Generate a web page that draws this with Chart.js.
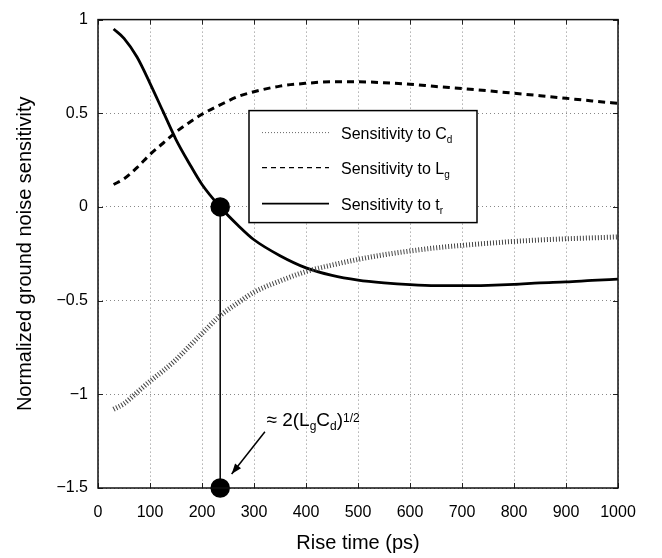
<!DOCTYPE html>
<html>
<head>
<meta charset="utf-8">
<script src="https://cdn.jsdelivr.net/npm/chart.js@4.4.1/dist/chart.umd.min.js"></script>
<style>
  html, body { margin: 0; padding: 0; background: #fff; }
  #wrap { width: 662px; height: 558px; }
</style>
</head>
<body>
<div id="wrap"><canvas id="chart" width="662" height="558"></canvas></div>
<script>
// ===== 数据 =====
const riseTime = [30, 50, 75, 100, 125, 150, 175, 200, 235, 270, 300, 350, 400, 450, 500, 550, 600, 650, 700, 750, 800, 850, 900, 950, 1000];
const sensCd = [-1.08, -1.05, -0.99, -0.93, -0.875, -0.815, -0.745, -0.675, -0.58, -0.51, -0.455, -0.395, -0.345, -0.31, -0.28, -0.255, -0.235, -0.218, -0.205, -0.194, -0.184, -0.176, -0.17, -0.165, -0.16];
const sensLg = [0.12, 0.15, 0.21, 0.28, 0.34, 0.40, 0.45, 0.495, 0.545, 0.59, 0.615, 0.645, 0.66, 0.668, 0.668, 0.663, 0.655, 0.643, 0.632, 0.62, 0.607, 0.594, 0.58, 0.566, 0.553];
const sensTr = [0.95, 0.90, 0.80, 0.66, 0.51, 0.36, 0.235, 0.12, 0.0, -0.10, -0.175, -0.26, -0.325, -0.365, -0.39, -0.405, -0.415, -0.42, -0.42, -0.418, -0.413, -0.405, -0.40, -0.392, -0.385];

// 标记的竖线 (t_r 过零点)
const markerX = [235, 235];
const markerY = [0, -1.5];

const xTicks = [0, 100, 200, 300, 400, 500, 600, 700, 800, 900, 1000];
const yTicks = [-1.5, -1, -0.5, 0, 0.5, 1];

const FONT = "'Liberation Sans', Arial, Helvetica, sans-serif";

function pts(xs, ys) {
    return xs.map((x, i) => ({ x: x, y: ys[i] }));
}

// 带上下标的文字
function drawRich(ctx, parts, x, y, size, subSize) {
    let cx = x;
    parts.forEach(p => {
        const txt = p[0], kind = p[1];
        let dy = 0, fs = size;
        if (kind === 'sub') { fs = subSize; dy = 4; }
        if (kind === 'sup') { fs = subSize; dy = -4; }
        ctx.font = fs + 'px ' + FONT;
        ctx.fillText(txt, cx, y + dy);
        cx += ctx.measureText(txt).width;
    });
}

// ===== 自定义绘制：边框、刻度、图例、注释 =====
const decoPlugin = {
    id: 'deco',
    afterDatasetsDraw(chart) {
        const ctx = chart.ctx;
        const a = chart.chartArea;
        const xs = chart.scales.x, ys = chart.scales.y;
        ctx.save();

        // 向内的刻度线
        ctx.strokeStyle = '#222';
        ctx.lineWidth = 1;
        ctx.beginPath();
        xTicks.forEach(t => {
            const px = Math.round(xs.getPixelForValue(t)) + 0.5;
            ctx.moveTo(px, a.bottom); ctx.lineTo(px, a.bottom - 5);
            ctx.moveTo(px, a.top); ctx.lineTo(px, a.top + 5);
        });
        yTicks.forEach(t => {
            const py = Math.round(ys.getPixelForValue(t)) + 0.5;
            ctx.moveTo(a.left, py); ctx.lineTo(a.left + 5, py);
            ctx.moveTo(a.right, py); ctx.lineTo(a.right - 5, py);
        });
        ctx.stroke();

        // 边框
        ctx.strokeStyle = '#111';
        ctx.lineWidth = 1.5;
        ctx.strokeRect(a.left, a.top, a.right - a.left, a.bottom - a.top);

        // 图例
        const lx = a.left + 151, ly = a.top + 91, lw = 228, lh = 112;
        ctx.fillStyle = '#fff';
        ctx.fillRect(lx, ly, lw, lh);
        ctx.strokeStyle = '#000';
        ctx.lineWidth = 1.5;
        ctx.strokeRect(lx, ly, lw, lh);

        const rows = [
            { y: 22, baseline: 28, dash: [1, 2], width: 1, color: '#666', parts: [['Sensitivity to C', null], ['d', 'sub']] },
            { y: 57, baseline: 63, dash: [5, 4], width: 1.3, color: '#000', parts: [['Sensitivity to L', null], ['g', 'sub']] },
            { y: 93, baseline: 99, dash: [], width: 1.6, color: '#000', parts: [['Sensitivity to t', null], ['r', 'sub']] }
        ];
        rows.forEach(r => {
            ctx.beginPath();
            ctx.setLineDash(r.dash);
            ctx.strokeStyle = r.color;
            ctx.lineWidth = r.width;
            ctx.moveTo(lx + 13, ly + r.y);
            ctx.lineTo(lx + 80, ly + r.y);
            ctx.stroke();
            ctx.setLineDash([]);
            ctx.fillStyle = '#000';
            ctx.textBaseline = 'alphabetic';
            ctx.textAlign = 'left';
            drawRich(ctx, r.parts, lx + 92, ly + r.baseline, 16, 10);
        });

        // 注释文字与箭头
        const tx = xs.getPixelForValue(324);
        const ty = ys.getPixelForValue(-1.168);
        ctx.fillStyle = '#000';
        drawRich(ctx, [['\u2248 2(L', null], ['g', 'sub'], ['C', null], ['d', 'sub'], [')', null], ['1/2', 'sup']], tx, ty, 19, 12);

        const x0 = xs.getPixelForValue(321), y0 = ys.getPixelForValue(-1.2);
        const x1 = xs.getPixelForValue(257), y1 = ys.getPixelForValue(-1.425);
        ctx.strokeStyle = '#000';
        ctx.lineWidth = 1.5;
        ctx.beginPath();
        ctx.moveTo(x0, y0);
        ctx.lineTo(x1, y1);
        ctx.stroke();
        const ang = Math.atan2(y1 - y0, x1 - x0);
        ctx.beginPath();
        ctx.moveTo(x1, y1);
        ctx.lineTo(x1 - 11 * Math.cos(ang - 0.35), y1 - 11 * Math.sin(ang - 0.35));
        ctx.lineTo(x1 - 11 * Math.cos(ang + 0.35), y1 - 11 * Math.sin(ang + 0.35));
        ctx.closePath();
        ctx.fill();

        ctx.restore();
    }
};

const ctx = document.getElementById('chart').getContext('2d');

const chart = new Chart(ctx, {
    type: 'line',
    data: {
        datasets: [
            {
                label: 'Sensitivity to Cd',
                data: pts(riseTime, sensCd),
                borderColor: '#444',
                borderWidth: 5,
                borderDash: [1, 2],
                borderCapStyle: 'butt',
                pointRadius: 0,
                cubicInterpolationMode: 'monotone'
            },
            {
                label: 'Sensitivity to Lg',
                data: pts(riseTime, sensLg),
                borderColor: '#000',
                borderWidth: 3,
                borderDash: [7, 5],
                borderCapStyle: 'butt',
                pointRadius: 0,
                cubicInterpolationMode: 'monotone'
            },
            {
                label: 'Sensitivity to tr',
                data: pts(riseTime, sensTr),
                borderColor: '#000',
                borderWidth: 2.8,
                pointRadius: 0,
                cubicInterpolationMode: 'monotone'
            },
            {
                label: 'marker',
                data: pts(markerX, markerY),
                borderColor: '#000',
                borderWidth: 1.5,
                pointRadius: 9,
                pointBackgroundColor: '#000',
                pointBorderColor: '#000',
                clip: false
            }
        ]
    },
    options: {
        responsive: false,
        animation: false,
        devicePixelRatio: 1,
        layout: { padding: { left: 0, right: 44, top: 14, bottom: 0 } },
        plugins: {
            legend: { display: false },
            tooltip: { enabled: false }
        },
        scales: {
            x: {
                type: 'linear',
                min: 0,
                max: 1000,
                afterFit: s => { s.height = 70; },
                afterBuildTicks: s => { s.ticks = xTicks.map(v => ({ value: v })); },
                ticks: {
                    color: '#000',
                    font: { family: FONT, size: 16 },
                    padding: 15,
                    maxRotation: 0,
                    callback: v => String(v)
                },
                grid: { color: '#888', lineWidth: 1, drawTicks: false },
                border: { display: false, dash: [1, 3] },
                title: { display: true, text: 'Rise time (ps)', color: '#000', font: { family: FONT, size: 20 }, padding: { top: 0, bottom: 3 } }
            },
            y: {
                min: -1.5,
                max: 1,
                afterFit: s => { s.width = 98; },
                afterBuildTicks: s => { s.ticks = yTicks.map(v => ({ value: v })); },
                ticks: {
                    color: '#000',
                    font: { family: FONT, size: 16 },
                    padding: 10,
                    callback: v => String(v).replace('-', '\u2212')
                },
                grid: { color: '#888', lineWidth: 1, drawTicks: false },
                border: { display: false, dash: [1, 3] },
                title: { display: true, text: 'Normalized ground noise sensitivity', color: '#000', font: { family: FONT, size: 20 }, padding: { top: 13, bottom: 0 } }
            }
        }
    },
    plugins: [decoPlugin]
});
</script>
</body>
</html>
